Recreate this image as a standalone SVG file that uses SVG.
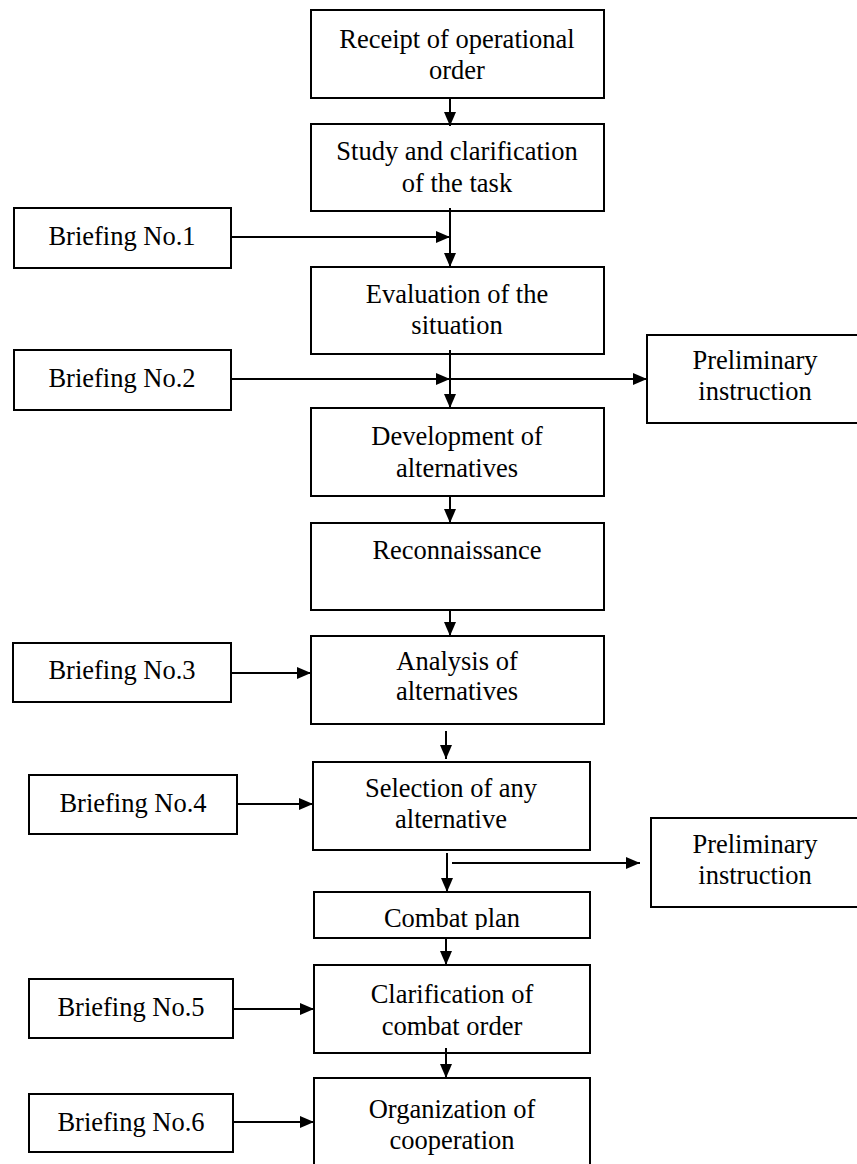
<svg xmlns="http://www.w3.org/2000/svg" width="857" height="1164" viewBox="0 0 857 1164">
<defs>
<marker id="ah" markerWidth="15" markerHeight="13" refX="14" refY="6.5" orient="auto" markerUnits="userSpaceOnUse">
<path d="M0,0.5 L14,6.5 L0,12.5 Z" fill="#000"/>
</marker>
<clipPath id="cp8"><rect x="314" y="892" width="276" height="38"/></clipPath>
<style>
rect{fill:#fff;stroke:#000;stroke-width:2}
text{font-family:"Liberation Serif","Times New Roman",serif;font-size:26.5px;fill:#000;text-anchor:middle}
#connectors line{stroke:#000;stroke-width:2}
</style>
</defs>
<rect x="0" y="0" width="857" height="1164" style="fill:#fff;stroke:none"/>
<g id="n1"><rect x="311" y="10" width="293" height="88"/><text x="457" y="48">Receipt of operational</text><text x="457" y="79">order</text></g>
<g id="n2"><rect x="311" y="124" width="293" height="87"/><text x="457" y="160">Study and clarification</text><text x="457" y="192">of the task</text></g>
<g id="b1"><rect x="14" y="208" width="217" height="60"/><text x="122" y="245">Briefing No.1</text></g>
<g id="n3"><rect x="311" y="267" width="293" height="87"/><text x="457" y="303">Evaluation of the</text><text x="457" y="334">situation</text></g>
<g id="b2"><rect x="14" y="350" width="217" height="60"/><text x="122" y="387">Briefing No.2</text></g>
<g id="p1"><rect x="647" y="335" width="220" height="88"/><text x="755" y="369">Preliminary</text><text x="755" y="400">instruction</text></g>
<g id="n4"><rect x="311" y="408" width="293" height="88"/><text x="457" y="445">Development of</text><text x="457" y="477">alternatives</text></g>
<g id="n5"><rect x="311" y="523" width="293" height="87"/><text x="457" y="559">Reconnaissance</text></g>
<g id="b3"><rect x="13" y="643" width="218" height="59"/><text x="122" y="679">Briefing No.3</text></g>
<g id="n6"><rect x="311" y="636" width="293" height="88"/><text x="457" y="670">Analysis of</text><text x="457" y="700">alternatives</text></g>
<g id="b4"><rect x="29" y="775" width="208" height="59"/><text x="133" y="812">Briefing No.4</text></g>
<g id="n7"><rect x="313" y="762" width="277" height="88"/><text x="451" y="797">Selection of any</text><text x="451" y="828">alternative</text></g>
<g id="p2"><rect x="651" y="818" width="220" height="89"/><text x="755" y="853">Preliminary</text><text x="755" y="884">instruction</text></g>
<g id="n8"><rect x="314" y="892" width="276" height="46"/><text x="452" y="927" clip-path="url(#cp8)">Combat plan</text></g>
<g id="b5"><rect x="29" y="979" width="204" height="59"/><text x="131" y="1016">Briefing No.5</text></g>
<g id="n9"><rect x="314" y="965" width="276" height="88"/><text x="452" y="1003">Clarification of</text><text x="452" y="1035">combat order</text></g>
<g id="b6"><rect x="29" y="1094" width="204" height="58"/><text x="131" y="1131">Briefing No.6</text></g>
<g id="n10"><rect x="314" y="1078" width="276" height="100"/><text x="452" y="1118">Organization of</text><text x="452" y="1149">cooperation</text></g>
<g id="connectors">
<line x1="450" y1="98" x2="450" y2="126" marker-end="url(#ah)"/>
<line x1="450" y1="208" x2="450" y2="267" marker-end="url(#ah)"/>
<line x1="231" y1="237" x2="450" y2="237" marker-end="url(#ah)"/>
<line x1="450" y1="350" x2="450" y2="408" marker-end="url(#ah)"/>
<line x1="231" y1="379" x2="450" y2="379" marker-end="url(#ah)"/>
<line x1="450" y1="379" x2="647" y2="379" marker-end="url(#ah)"/>
<line x1="450" y1="496" x2="450" y2="523" marker-end="url(#ah)"/>
<line x1="450" y1="610" x2="450" y2="636" marker-end="url(#ah)"/>
<line x1="231" y1="673" x2="311" y2="673" marker-end="url(#ah)"/>
<line x1="446" y1="731" x2="446" y2="759" marker-end="url(#ah)"/>
<line x1="237" y1="804" x2="313" y2="804" marker-end="url(#ah)"/>
<line x1="447" y1="853" x2="447" y2="892" marker-end="url(#ah)"/>
<line x1="452" y1="863" x2="640" y2="863" marker-end="url(#ah)"/>
<line x1="446" y1="938" x2="446" y2="965" marker-end="url(#ah)"/>
<line x1="233" y1="1009" x2="314" y2="1009" marker-end="url(#ah)"/>
<line x1="446" y1="1048" x2="446" y2="1078" marker-end="url(#ah)"/>
<line x1="233" y1="1122" x2="314" y2="1122" marker-end="url(#ah)"/>
</g>
</svg>
